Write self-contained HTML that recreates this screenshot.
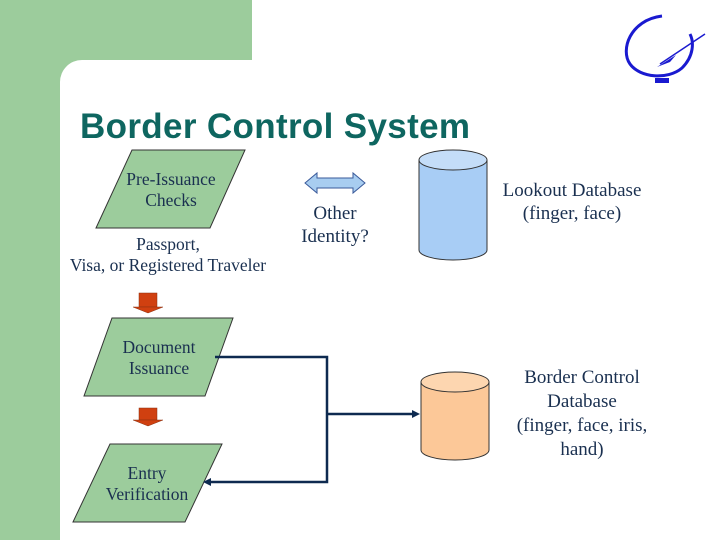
<!DOCTYPE html>
<html><head><style>
body{margin:0;width:720px;height:540px;overflow:hidden;background:#fff;font-family:"Liberation Serif",serif}
</style></head><body>
<svg width="720" height="540" xmlns="http://www.w3.org/2000/svg" style="position:absolute;left:0;top:0">
<rect x="0" y="0" width="720" height="540" fill="#fff"/>
<rect x="0" y="0" width="252" height="60" fill="#9ccc9c"/>
<rect x="0" y="0" width="60" height="540" fill="#9ccc9c"/>
<path d="M60 60 H82 A22 22 0 0 0 60 82 Z" fill="#9ccc9c"/>
<!-- logo -->
<path d="M662 16 C630 20 620 50 630 64 C640 78 668 80 682 68 C694 56 694 42 690 34" fill="none" stroke="#1a1ad0" stroke-width="3"/>
<path d="M660 64 L705 34" stroke="#1a1ad0" stroke-width="1.5"/>
<path d="M657 67 L676 55 L670 62 Z" fill="#1a1ad0"/>
<rect x="655" y="78" width="14" height="5" fill="#1a1ad0"/>
<text x="80" y="138" font-family="Liberation Sans, sans-serif" font-weight="bold" font-size="35" fill="#0e6660" textLength="390">Border Control System</text>
<!-- pre-issuance -->
<polygon points="132,150 245,150 210,228 96,228" fill="#9ccc9c" stroke="#333" stroke-width="1"/>
<text font-size="17.5" fill="#1a3050" text-anchor="middle"><tspan x="171" y="185">Pre-Issuance</tspan><tspan x="171" y="206">Checks</tspan></text>
<text font-size="17.5" fill="#1a3050" text-anchor="middle"><tspan x="168" y="250">Passport,</tspan><tspan x="168" y="271">Visa, or Registered Traveler</tspan></text>
<!-- double arrow -->
<polygon points="305,183 317,173 317,178 353,178 353,173 365,183 353,193 353,188 317,188 317,193" fill="#a8cdf0" stroke="#3a5a9a" stroke-width="1"/>
<text font-size="19" fill="#1a3050" text-anchor="middle"><tspan x="335" y="219">Other</tspan><tspan x="335" y="242">Identity?</tspan></text>
<!-- blue cylinder -->
<path d="M419 160 V250 A34 10 0 0 0 487 250 V160" fill="#a8cdf5" stroke="#333"/>
<ellipse cx="453" cy="160" rx="34" ry="10" fill="#c4ddf8" stroke="#333"/>
<text font-size="19" fill="#1a3050" text-anchor="middle"><tspan x="572" y="196">Lookout Database</tspan><tspan x="572" y="219">(finger, face)</tspan></text>
<!-- red arrows -->
<g fill="#d04010" stroke="#8a3010" stroke-width="0.5">
<rect x="139" y="293" width="18" height="14"/><polygon points="133,307 163,307 148,313"/>
<rect x="139" y="408" width="18" height="12"/><polygon points="133,420 163,420 148,426"/>
</g>
<!-- doc issuance -->
<polygon points="112,318 233,318 205,396 84,396" fill="#9ccc9c" stroke="#333"/>
<text font-size="17.5" fill="#1a3050" text-anchor="middle"><tspan x="159" y="353">Document</tspan><tspan x="159" y="374">Issuance</tspan></text>
<!-- entry -->
<polygon points="110,444 222,444 185,522 73,522" fill="#9ccc9c" stroke="#333"/>
<text font-size="17.5" fill="#1a3050" text-anchor="middle"><tspan x="147" y="479">Entry</tspan><tspan x="147" y="500">Verification</tspan></text>
<!-- connectors -->
<path d="M215 357 H327 V482 H210" fill="none" stroke="#0e2a50" stroke-width="2.5"/>
<polygon points="203,482 211,478 211,486" fill="#0e2a50"/>
<path d="M327 414 H413" fill="none" stroke="#0e2a50" stroke-width="2.5"/>
<polygon points="420,414 412,410 412,418" fill="#0e2a50"/>
<!-- orange cylinder -->
<path d="M421 382 V450 A34 10 0 0 0 489 450 V382" fill="#fcc898" stroke="#333"/>
<ellipse cx="455" cy="382" rx="34" ry="10" fill="#fdd6b0" stroke="#333"/>
<text font-size="19" fill="#1a3050" text-anchor="middle"><tspan x="582" y="383">Border Control</tspan><tspan x="582" y="407">Database</tspan><tspan x="582" y="431">(finger, face, iris,</tspan><tspan x="582" y="455">hand)</tspan></text>
</svg>
</body></html>
